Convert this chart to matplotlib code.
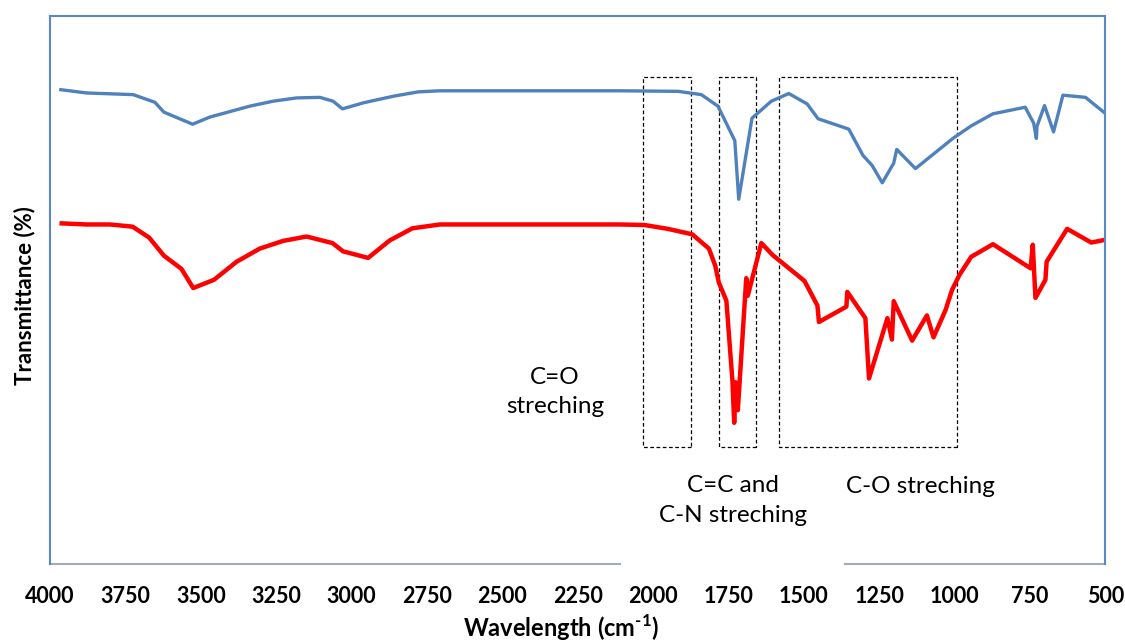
import matplotlib
matplotlib.use("Agg")
import matplotlib.pyplot as plt
from matplotlib.patches import Rectangle

plt.rcParams['font.family'] = ['Lato', 'DejaVu Sans']
plt.rcParams['mathtext.fontset'] = 'custom'
plt.rcParams['mathtext.rm'] = 'Lato:bold'
plt.rcParams['mathtext.bf'] = 'Lato:bold'

# Datos
wn_a = [3964, 3878, 3724, 3652, 3622, 3527, 3470, 3337, 3260, 3182, 3105, 3061,
        3030, 2961, 2862, 2779, 2707, 2111, 1917, 1840, 1785, 1729, 1716, 1672,
        1608, 1550, 1489, 1453, 1351, 1304, 1274, 1240, 1202, 1192, 1130, 1006,
        945, 873, 766, 738, 729, 727, 702, 672, 641, 566, 501]
t_a = [86.5, 85.9, 85.6, 84.2, 82.4, 80.2, 81.5, 83.5, 84.4, 85.0, 85.1, 84.4,
       83.0, 84.1, 85.3, 86.1, 86.3, 86.3, 86.2, 85.6, 83.5, 77.2, 66.5, 81.3,
       84.4, 85.8, 83.9, 81.2, 79.3, 74.5, 72.7, 69.5, 73.1, 75.6, 72.1, 77.6,
       79.9, 82.1, 83.3, 80.4, 77.6, 79.8, 83.6, 78.8, 85.5, 85.1, 82.2]

wn_b = [3961, 3878, 3801, 3726, 3671, 3622, 3564, 3525, 3456, 3381, 3304, 3227,
        3149, 3063, 3028, 2945, 2873, 2798, 2707, 2111, 2028, 1951, 1870, 1815,
        1794, 1782, 1757, 1737, 1731, 1726, 1719, 1691, 1686, 1641, 1603, 1498,
        1455, 1450, 1359, 1356, 1296, 1284, 1223, 1208, 1202, 1141, 1092, 1070,
        1030, 1009, 984, 945, 873, 748, 741, 732, 699, 695, 627, 547, 501]
t_b = [62.1, 61.9, 61.9, 61.5, 59.5, 56.2, 53.8, 50.3, 51.8, 55.1, 57.5, 58.9,
       59.7, 58.5, 57.0, 55.8, 59.0, 61.2, 61.9, 61.9, 61.8, 61.1, 60.1, 57.5,
       54.4, 51.3, 48.0, 33.5, 25.7, 33.1, 28.0, 52.1, 48.9, 58.5, 56.3, 51.6,
       47.1, 44.1, 46.9, 49.6, 44.8, 33.8, 44.8, 40.9, 47.9, 40.7, 45.3, 41.3,
       46.3, 49.9, 52.7, 56.0, 58.3, 53.9, 58.2, 48.5, 51.8, 55.1, 61.1, 58.6, 59.1]

xticks = list(range(4000, 499, -250))

# Regiones marcadas (wn inicio, wn fin)
regiones = [(2035, 1875), (1783, 1658), (1584, 993)]
etiquetas = [("C=O\nstreching", 2326, 31.3),
             ("C=C and\nC-N streching", 1736, 11.5),
             ("C-O streching", 1113, 14.0)]

fig = plt.figure(figsize=(11.25, 6.42), dpi=100)
ax = fig.add_axes([0.0444, 0.1221, 0.9382, 0.8534])

ax.plot(wn_a, t_a, color="#4F81BD", lw=2.4, solid_joinstyle="round")
ax.plot(wn_b, t_b, color="#FF0000", lw=3.2, solid_joinstyle="round")

for x0, x1 in regiones:
    ax.add_patch(Rectangle((x1, 21.3), x0 - x1, 67.5, fill=False,
                           ec="black", lw=0.9, ls=(0, (3, 2))))
for txt, x, y in etiquetas:
    ax.text(x, y, txt, ha="center", va="center", fontsize=17.5,
            linespacing=1.5, color="black")

ax.set_xlim(4000, 500)
ax.set_ylim(0, 100)
ax.set_xticks(xticks)
ax.set_xticklabels([str(v) for v in xticks], fontsize=15.5, fontweight="bold")
ax.set_yticks([])
ax.tick_params(axis="x", length=0, pad=16)

for s in ["left", "right", "top"]:
    ax.spines[s].set_color("#5B87C2")
    ax.spines[s].set_linewidth(1.5)
ax.spines["bottom"].set_visible(False)
# borde inferior interrumpido por el cuadro de texto
for a, b in [(0, 0.54), (0.753, 1)]:
    ax.plot([a, b], [0, 0], transform=ax.transAxes, color="#A3AAB8",
            lw=1.5, clip_on=False)

ax.set_xlabel(r"Wavelength (cm$^{\text{-1}}$)", fontsize=17, fontweight="bold")
ax.xaxis.set_label_coords(0.484, -0.09)
ax.set_ylabel("Transmittance (%)", fontsize=16, fontweight="bold")
ax.yaxis.set_label_coords(-0.014, 0.49)

fig.savefig("out.png", dpi=100)
